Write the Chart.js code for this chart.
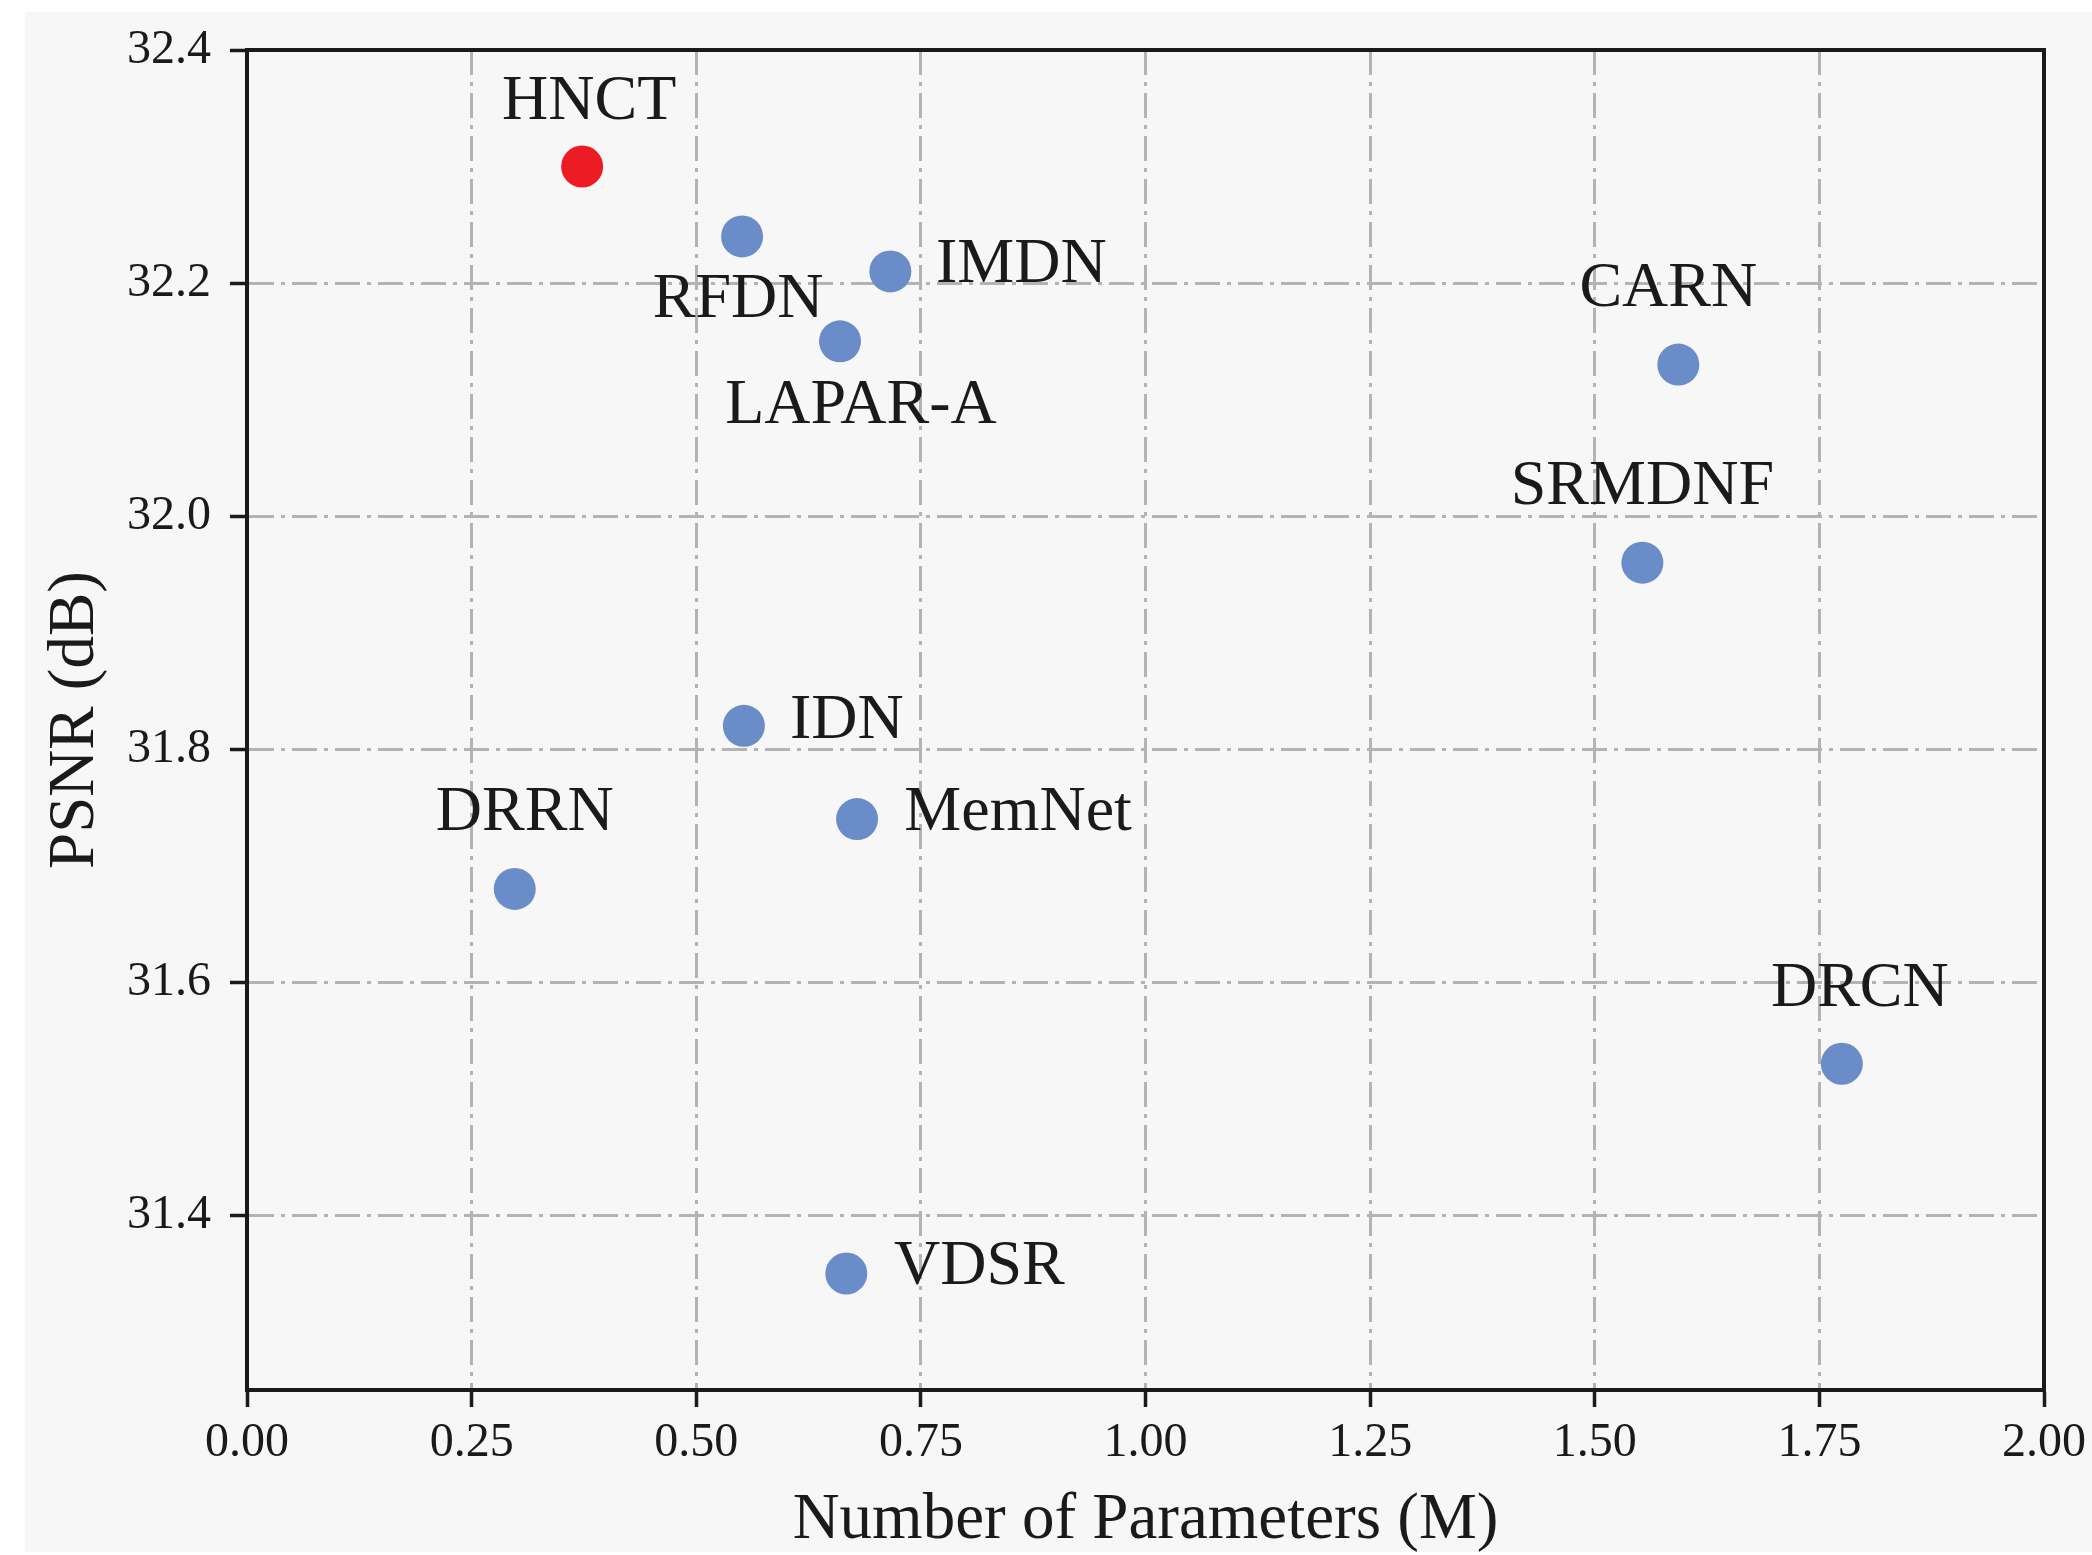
<!DOCTYPE html>
<html>
<head>
<meta charset="utf-8">
<title>PSNR vs Parameters</title>
<script src="https://cdn.jsdelivr.net/npm/chart.js@4.4.1/dist/chart.umd.min.js"></script>
<style>
    html, body { margin: 0; padding: 0; background: #ffffff; }
    #chart { display: block; }
</style>
</head>
<body>
<canvas id="chart" width="2092" height="1555"></canvas>
<script>
// Model names, parameter counts (M) and PSNR (dB)
const models = ['HNCT', 'RFDN', 'IMDN', 'LAPAR-A', 'CARN', 'SRMDNF', 'IDN', 'MemNet', 'DRRN', 'DRCN', 'VDSR'];
const params = [0.373, 0.551, 0.716, 0.660, 1.593, 1.553, 0.553, 0.679, 0.298, 1.775, 0.667];
const psnr = [32.30, 32.24, 32.21, 32.15, 32.13, 31.96, 31.82, 31.74, 31.68, 31.53, 31.35];
const highlight = 'HNCT';

// Axis ticks
const xTickValues = [0, 0.25, 0.5, 0.75, 1.0, 1.25, 1.5, 1.75, 2.0];
const yTickValues = [31.4, 31.6, 31.8, 32.0, 32.2, 32.4];

// Label offsets from each point, in pixels (layout only)
const labelOffsets = [
    [7, -64], [-4, 64], [131, -6], [21, 65], [-10, -75], [0, -76],
    [103, -5], [161, -6], [10, -76], [18, -75], [133, -6]
];

const serif = '"Liberation Serif", "Times New Roman", serif';
const ink = '#1a1a1a';

const points = params.map((p, i) => ({ x: p, y: psnr[i] }));
const colors = models.map(m => m === highlight ? '#ed1c24' : '#6a8dc9');

// Gray figure background
const backgroundPlugin = {
    id: 'figureBackground',
    beforeDraw(chart) {
        const ctx = chart.ctx;
        ctx.save();
        ctx.fillStyle = '#f7f7f7';
        ctx.fillRect(25, 12, chart.width - 25, chart.height - 15);
        ctx.restore();
    }
};

// Closed box round the plot area (top and right spines)
const framePlugin = {
    id: 'frame',
    afterDatasetsDraw(chart) {
        const a = chart.chartArea;
        const ctx = chart.ctx;
        ctx.save();
        ctx.strokeStyle = ink;
        ctx.lineWidth = 4;
        ctx.beginPath();
        ctx.moveTo(a.left, a.top);
        ctx.lineTo(a.right, a.top);
        ctx.lineTo(a.right, a.bottom);
        ctx.stroke();
        ctx.restore();
    }
};

// Model names next to the points
const labelPlugin = {
    id: 'pointLabels',
    afterDatasetsDraw(chart) {
        const ctx = chart.ctx;
        const meta = chart.getDatasetMeta(0);
        ctx.save();
        ctx.font = '64px ' + serif;
        ctx.fillStyle = ink;
        ctx.textAlign = 'center';
        ctx.textBaseline = 'middle';
        meta.data.forEach((el, i) => {
            const off = labelOffsets[i];
            ctx.fillText(models[i], el.x + off[0], el.y + off[1]);
        });
        ctx.restore();
    }
};

const gridStyle = {
    color: '#b3b3b7',
    lineWidth: 3,
    drawTicks: true,
    tickLength: 17,
    tickColor: ink,
    tickWidth: 3.5,
    tickBorderDash: []
};

new Chart(document.getElementById('chart').getContext('2d'), {
    type: 'scatter',
    data: {
        datasets: [{
            label: 'PSNR',
            data: points,
            pointBackgroundColor: colors,
            pointBorderWidth: 0,
            pointRadius: 21,
            pointHoverRadius: 21
        }]
    },
    options: {
        responsive: false,
        devicePixelRatio: 1,
        animation: false,
        layout: { padding: { left: 0, right: 48, top: 50, bottom: 0 } },
        plugins: {
            legend: { display: false },
            tooltip: { enabled: false }
        },
        scales: {
            x: {
                type: 'linear',
                min: 0,
                max: 2,
                afterBuildTicks: scale => { scale.ticks = xTickValues.map(v => ({ value: v })); },
                afterFit: scale => {
                    scale.height = 165;
                    scale.paddingLeft = 0;
                    scale.paddingRight = 0;
                },
                grid: gridStyle,
                border: { display: true, color: ink, width: 4, dash: [25, 7, 4, 7] },
                ticks: {
                    color: ink,
                    padding: 8,
                    maxRotation: 0,
                    font: { family: serif, size: 48, lineHeight: 1.2 },
                    callback: v => Number(v).toFixed(2)
                },
                title: {
                    display: true,
                    text: 'Number of Parameters (M)',
                    color: ink,
                    padding: { top: 0, bottom: 2 },
                    font: { family: serif, size: 65, lineHeight: 1.0 }
                }
            },
            y: {
                type: 'linear',
                min: 31.25,
                max: 32.4,
                afterBuildTicks: scale => { scale.ticks = yTickValues.map(v => ({ value: v })); },
                afterFit: scale => { scale.width = 247; },
                grid: gridStyle,
                border: { display: true, color: ink, width: 4, dash: [25, 7, 4, 7] },
                ticks: {
                    color: ink,
                    padding: 19,
                    font: { family: serif, size: 48, lineHeight: 1.2 },
                    callback: v => Number(v).toFixed(1)
                },
                title: {
                    display: true,
                    text: 'PSNR (dB)',
                    color: ink,
                    padding: { top: 37, bottom: 0 },
                    font: { family: serif, size: 65, lineHeight: 1.2 }
                }
            }
        }
    },
    plugins: [backgroundPlugin, framePlugin, labelPlugin]
});
</script>
</body>
</html>
